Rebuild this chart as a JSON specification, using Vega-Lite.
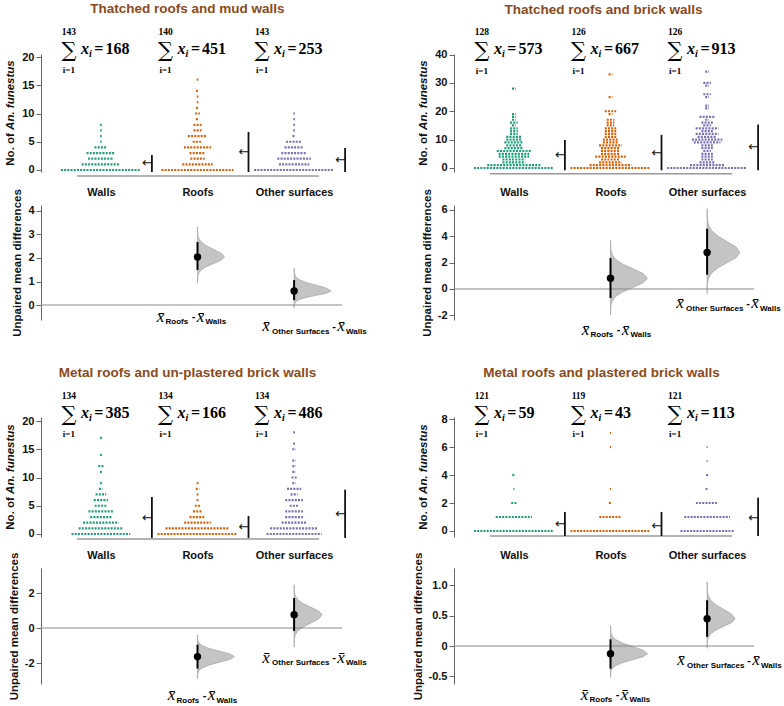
{
"$schema": "https://vega.github.io/schema/vega-lite/v6.json",
"background": "white",
"padding": {"left": 4, "top": 2, "right": 0, "bottom": 0},
"columns": 2,
"spacing": {"row": 27, "column": 100},
"bounds": "flush",
"align": "each",
"resolve": {"scale": {"size": "independent", "color": "independent"}},
"datasets": {
"swarm": [
{"p":"p1","g":"Walls","v":0,"n":73},{"p":"p1","g":"Walls","v":1,"n":24},{"p":"p1","g":"Walls","v":2,"n":16},{"p":"p1","g":"Walls","v":3,"n":18},{"p":"p1","g":"Walls","v":4,"n":8},{"p":"p1","g":"Walls","v":5,"n":1},{"p":"p1","g":"Walls","v":6,"n":1},{"p":"p1","g":"Walls","v":7,"n":1},{"p":"p1","g":"Walls","v":8,"n":1},
{"p":"p1","g":"Roofs","v":0,"n":45},{"p":"p1","g":"Roofs","v":1,"n":19},{"p":"p1","g":"Roofs","v":2,"n":9},{"p":"p1","g":"Roofs","v":3,"n":10},{"p":"p1","g":"Roofs","v":4,"n":17},{"p":"p1","g":"Roofs","v":5,"n":6},{"p":"p1","g":"Roofs","v":6,"n":12},{"p":"p1","g":"Roofs","v":7,"n":5},{"p":"p1","g":"Roofs","v":8,"n":5},{"p":"p1","g":"Roofs","v":9,"n":2},{"p":"p1","g":"Roofs","v":10,"n":3},{"p":"p1","g":"Roofs","v":11,"n":2},{"p":"p1","g":"Roofs","v":12,"n":1},{"p":"p1","g":"Roofs","v":13,"n":1},{"p":"p1","g":"Roofs","v":14,"n":2},{"p":"p1","g":"Roofs","v":16,"n":1},
{"p":"p1","g":"Other surfaces","v":0,"n":59},{"p":"p1","g":"Other surfaces","v":1,"n":19},{"p":"p1","g":"Other surfaces","v":2,"n":21},{"p":"p1","g":"Other surfaces","v":3,"n":16},{"p":"p1","g":"Other surfaces","v":4,"n":12},{"p":"p1","g":"Other surfaces","v":5,"n":10},{"p":"p1","g":"Other surfaces","v":6,"n":2},{"p":"p1","g":"Other surfaces","v":7,"n":1},{"p":"p1","g":"Other surfaces","v":8,"n":1},{"p":"p1","g":"Other surfaces","v":9,"n":1},{"p":"p1","g":"Other surfaces","v":10,"n":1},
{"p":"p2","g":"Walls","v":0,"n":42},{"p":"p2","g":"Walls","v":1,"n":14},{"p":"p2","g":"Walls","v":2,"n":6},{"p":"p2","g":"Walls","v":3,"n":6},{"p":"p2","g":"Walls","v":4,"n":8},{"p":"p2","g":"Walls","v":5,"n":8},{"p":"p2","g":"Walls","v":6,"n":9},{"p":"p2","g":"Walls","v":7,"n":5},{"p":"p2","g":"Walls","v":8,"n":4},{"p":"p2","g":"Walls","v":9,"n":5},{"p":"p2","g":"Walls","v":10,"n":4},{"p":"p2","g":"Walls","v":11,"n":4},{"p":"p2","g":"Walls","v":12,"n":2},{"p":"p2","g":"Walls","v":13,"n":2},{"p":"p2","g":"Walls","v":14,"n":2},{"p":"p2","g":"Walls","v":15,"n":1},{"p":"p2","g":"Walls","v":16,"n":2},{"p":"p2","g":"Walls","v":17,"n":1},{"p":"p2","g":"Walls","v":18,"n":1},{"p":"p2","g":"Walls","v":19,"n":1},{"p":"p2","g":"Walls","v":28,"n":1},
{"p":"p2","g":"Roofs","v":0,"n":43},{"p":"p2","g":"Roofs","v":1,"n":11},{"p":"p2","g":"Roofs","v":2,"n":6},{"p":"p2","g":"Roofs","v":3,"n":5},{"p":"p2","g":"Roofs","v":4,"n":8},{"p":"p2","g":"Roofs","v":5,"n":5},{"p":"p2","g":"Roofs","v":6,"n":5},{"p":"p2","g":"Roofs","v":7,"n":5},{"p":"p2","g":"Roofs","v":8,"n":6},{"p":"p2","g":"Roofs","v":9,"n":4},{"p":"p2","g":"Roofs","v":10,"n":4},{"p":"p2","g":"Roofs","v":11,"n":3},{"p":"p2","g":"Roofs","v":12,"n":3},{"p":"p2","g":"Roofs","v":13,"n":3},{"p":"p2","g":"Roofs","v":14,"n":3},{"p":"p2","g":"Roofs","v":15,"n":2},{"p":"p2","g":"Roofs","v":16,"n":2},{"p":"p2","g":"Roofs","v":17,"n":2},{"p":"p2","g":"Roofs","v":19,"n":1},{"p":"p2","g":"Roofs","v":20,"n":3},{"p":"p2","g":"Roofs","v":25,"n":1},{"p":"p2","g":"Roofs","v":33,"n":1},
{"p":"p2","g":"Other surfaces","v":0,"n":42},{"p":"p2","g":"Other surfaces","v":1,"n":9},{"p":"p2","g":"Other surfaces","v":2,"n":4},{"p":"p2","g":"Other surfaces","v":3,"n":3},{"p":"p2","g":"Other surfaces","v":4,"n":3},{"p":"p2","g":"Other surfaces","v":5,"n":3},{"p":"p2","g":"Other surfaces","v":6,"n":2},{"p":"p2","g":"Other surfaces","v":7,"n":3},{"p":"p2","g":"Other surfaces","v":8,"n":3},{"p":"p2","g":"Other surfaces","v":9,"n":7},{"p":"p2","g":"Other surfaces","v":10,"n":8},{"p":"p2","g":"Other surfaces","v":11,"n":5},{"p":"p2","g":"Other surfaces","v":12,"n":6},{"p":"p2","g":"Other surfaces","v":13,"n":3},{"p":"p2","g":"Other surfaces","v":14,"n":6},{"p":"p2","g":"Other surfaces","v":15,"n":2},{"p":"p2","g":"Other surfaces","v":16,"n":3},{"p":"p2","g":"Other surfaces","v":17,"n":1},{"p":"p2","g":"Other surfaces","v":18,"n":4},{"p":"p2","g":"Other surfaces","v":21,"n":1},{"p":"p2","g":"Other surfaces","v":22,"n":1},{"p":"p2","g":"Other surfaces","v":25,"n":1},{"p":"p2","g":"Other surfaces","v":26,"n":2},{"p":"p2","g":"Other surfaces","v":29,"n":1},{"p":"p2","g":"Other surfaces","v":30,"n":2},{"p":"p2","g":"Other surfaces","v":34,"n":1},
{"p":"p3","g":"Walls","v":0,"n":33},{"p":"p3","g":"Walls","v":1,"n":25},{"p":"p3","g":"Walls","v":2,"n":20},{"p":"p3","g":"Walls","v":3,"n":12},{"p":"p3","g":"Walls","v":4,"n":14},{"p":"p3","g":"Walls","v":5,"n":7},{"p":"p3","g":"Walls","v":6,"n":8},{"p":"p3","g":"Walls","v":7,"n":6},{"p":"p3","g":"Walls","v":8,"n":2},{"p":"p3","g":"Walls","v":9,"n":1},{"p":"p3","g":"Walls","v":11,"n":1},{"p":"p3","g":"Walls","v":12,"n":3},{"p":"p3","g":"Walls","v":14,"n":1},{"p":"p3","g":"Walls","v":17,"n":1},
{"p":"p3","g":"Roofs","v":0,"n":61},{"p":"p3","g":"Roofs","v":1,"n":36},{"p":"p3","g":"Roofs","v":2,"n":15},{"p":"p3","g":"Roofs","v":3,"n":9},{"p":"p3","g":"Roofs","v":4,"n":5},{"p":"p3","g":"Roofs","v":5,"n":3},{"p":"p3","g":"Roofs","v":6,"n":1},{"p":"p3","g":"Roofs","v":7,"n":1},{"p":"p3","g":"Roofs","v":8,"n":2},{"p":"p3","g":"Roofs","v":9,"n":1},
{"p":"p3","g":"Other surfaces","v":0,"n":31},{"p":"p3","g":"Other surfaces","v":1,"n":27},{"p":"p3","g":"Other surfaces","v":2,"n":14},{"p":"p3","g":"Other surfaces","v":3,"n":10},{"p":"p3","g":"Other surfaces","v":4,"n":10},{"p":"p3","g":"Other surfaces","v":5,"n":5},{"p":"p3","g":"Other surfaces","v":6,"n":10},{"p":"p3","g":"Other surfaces","v":7,"n":4},{"p":"p3","g":"Other surfaces","v":8,"n":8},{"p":"p3","g":"Other surfaces","v":9,"n":2},{"p":"p3","g":"Other surfaces","v":10,"n":3},{"p":"p3","g":"Other surfaces","v":11,"n":2},{"p":"p3","g":"Other surfaces","v":12,"n":2},{"p":"p3","g":"Other surfaces","v":13,"n":2},{"p":"p3","g":"Other surfaces","v":15,"n":2},{"p":"p3","g":"Other surfaces","v":16,"n":1},{"p":"p3","g":"Other surfaces","v":18,"n":1},
{"p":"p4","g":"Walls","v":0,"n":78},{"p":"p4","g":"Walls","v":1,"n":34},{"p":"p4","g":"Walls","v":2,"n":5},{"p":"p4","g":"Walls","v":3,"n":1},{"p":"p4","g":"Walls","v":4,"n":3},
{"p":"p4","g":"Roofs","v":0,"n":93},{"p":"p4","g":"Roofs","v":1,"n":21},{"p":"p4","g":"Roofs","v":2,"n":3},{"p":"p4","g":"Roofs","v":3,"n":1},{"p":"p4","g":"Roofs","v":6,"n":1},{"p":"p4","g":"Roofs","v":7,"n":1},
{"p":"p4","g":"Other surfaces","v":0,"n":50},{"p":"p4","g":"Other surfaces","v":1,"n":43},{"p":"p4","g":"Other surfaces","v":2,"n":21},{"p":"p4","g":"Other surfaces","v":3,"n":3},{"p":"p4","g":"Other surfaces","v":4,"n":2},{"p":"p4","g":"Other surfaces","v":5,"n":1},{"p":"p4","g":"Other surfaces","v":6,"n":1}
],
"stats": [
{"p":"p1","g":"Walls","N":143,"S":168,"mean":1.175,"lo":-0.35,"hi":2.65},
{"p":"p1","g":"Roofs","N":140,"S":451,"mean":3.221,"lo":-0.35,"hi":6.73},
{"p":"p1","g":"Other surfaces","N":143,"S":253,"mean":1.769,"lo":-0.35,"hi":3.89},
{"p":"p2","g":"Walls","N":128,"S":573,"mean":4.477,"lo":-0.8,"hi":9.87},
{"p":"p2","g":"Roofs","N":126,"S":667,"mean":5.294,"lo":-0.8,"hi":11.7},
{"p":"p2","g":"Other surfaces","N":126,"S":913,"mean":7.246,"lo":-0.8,"hi":15.3},
{"p":"p3","g":"Walls","N":134,"S":385,"mean":2.873,"lo":-0.7,"hi":6.55},
{"p":"p3","g":"Roofs","N":134,"S":166,"mean":1.239,"lo":-0.7,"hi":3.19},
{"p":"p3","g":"Other surfaces","N":134,"S":486,"mean":3.627,"lo":-0.7,"hi":7.85},
{"p":"p4","g":"Walls","N":121,"S":59,"mean":0.488,"lo":-0.36,"hi":1.36},
{"p":"p4","g":"Roofs","N":119,"S":43,"mean":0.361,"lo":-0.36,"hi":1.36},
{"p":"p4","g":"Other surfaces","N":121,"S":113,"mean":0.934,"lo":-0.36,"hi":2.38}
],
"diff": [
{"p":"p1","g":"Roofs","m":2.047,"lo":1.49,"hi":2.68},
{"p":"p1","g":"Other surfaces","m":0.594,"lo":0.21,"hi":1.06},
{"p":"p2","g":"Roofs","m":0.817,"lo":-0.68,"hi":2.35},
{"p":"p2","g":"Other surfaces","m":2.77,"lo":1.09,"hi":4.58},
{"p":"p3","g":"Roofs","m":-1.634,"lo":-2.32,"hi":-0.95},
{"p":"p3","g":"Other surfaces","m":0.754,"lo":-0.17,"hi":1.71},
{"p":"p4","g":"Roofs","m":-0.126,"lo":-0.37,"hi":0.11},
{"p":"p4","g":"Other surfaces","m":0.446,"lo":0.15,"hi":0.75}
],
"vio": [
{"p":"p1","g":"Roofs","v":0.939,"d":0},{"p":"p1","g":"Roofs","v":1.216,"d":0.015},{"p":"p1","g":"Roofs","v":1.355,"d":0.059},{"p":"p1","g":"Roofs","v":1.493,"d":0.183},{"p":"p1","g":"Roofs","v":1.632,"d":0.438},{"p":"p1","g":"Roofs","v":1.77,"d":0.819},{"p":"p1","g":"Roofs","v":1.909,"d":1.191},{"p":"p1","g":"Roofs","v":2.047,"d":1.35},{"p":"p1","g":"Roofs","v":2.206,"d":1.191},{"p":"p1","g":"Roofs","v":2.365,"d":0.819},{"p":"p1","g":"Roofs","v":2.524,"d":0.438},{"p":"p1","g":"Roofs","v":2.683,"d":0.183},{"p":"p1","g":"Roofs","v":2.842,"d":0.059},{"p":"p1","g":"Roofs","v":3.001,"d":0.015},{"p":"p1","g":"Roofs","v":3.319,"d":0},
{"p":"p1","g":"Other surfaces","v":-0.13,"d":0},{"p":"p1","g":"Other surfaces","v":0.051,"d":0.021},{"p":"p1","g":"Other surfaces","v":0.142,"d":0.081},{"p":"p1","g":"Other surfaces","v":0.232,"d":0.25},{"p":"p1","g":"Other surfaces","v":0.323,"d":0.601},{"p":"p1","g":"Other surfaces","v":0.413,"d":1.122},{"p":"p1","g":"Other surfaces","v":0.504,"d":1.633},{"p":"p1","g":"Other surfaces","v":0.594,"d":1.85},{"p":"p1","g":"Other surfaces","v":0.716,"d":1.633},{"p":"p1","g":"Other surfaces","v":0.838,"d":1.122},{"p":"p1","g":"Other surfaces","v":0.96,"d":0.601},{"p":"p1","g":"Other surfaces","v":1.082,"d":0.25},{"p":"p1","g":"Other surfaces","v":1.204,"d":0.081},{"p":"p1","g":"Other surfaces","v":1.326,"d":0.021},{"p":"p1","g":"Other surfaces","v":1.57,"d":0},
{"p":"p2","g":"Roofs","v":-1.971,"d":0},{"p":"p2","g":"Roofs","v":-1.274,"d":0.006},{"p":"p2","g":"Roofs","v":-0.926,"d":0.025},{"p":"p2","g":"Roofs","v":-0.577,"d":0.076},{"p":"p2","g":"Roofs","v":-0.229,"d":0.182},{"p":"p2","g":"Roofs","v":0.12,"d":0.34},{"p":"p2","g":"Roofs","v":0.469,"d":0.495},{"p":"p2","g":"Roofs","v":0.817,"d":0.561},{"p":"p2","g":"Roofs","v":1.178,"d":0.495},{"p":"p2","g":"Roofs","v":1.538,"d":0.34},{"p":"p2","g":"Roofs","v":1.899,"d":0.182},{"p":"p2","g":"Roofs","v":2.259,"d":0.076},{"p":"p2","g":"Roofs","v":2.62,"d":0.025},{"p":"p2","g":"Roofs","v":2.98,"d":0.006},{"p":"p2","g":"Roofs","v":3.701,"d":0},
{"p":"p2","g":"Other surfaces","v":-0.36,"d":0},{"p":"p2","g":"Other surfaces","v":0.423,"d":0.006},{"p":"p2","g":"Other surfaces","v":0.814,"d":0.022},{"p":"p2","g":"Other surfaces","v":1.205,"d":0.068},{"p":"p2","g":"Other surfaces","v":1.596,"d":0.162},{"p":"p2","g":"Other surfaces","v":1.988,"d":0.303},{"p":"p2","g":"Other surfaces","v":2.379,"d":0.441},{"p":"p2","g":"Other surfaces","v":2.77,"d":0.5},{"p":"p2","g":"Other surfaces","v":3.186,"d":0.441},{"p":"p2","g":"Other surfaces","v":3.603,"d":0.303},{"p":"p2","g":"Other surfaces","v":4.019,"d":0.162},{"p":"p2","g":"Other surfaces","v":4.435,"d":0.068},{"p":"p2","g":"Other surfaces","v":4.851,"d":0.022},{"p":"p2","g":"Other surfaces","v":5.268,"d":0.006},{"p":"p2","g":"Other surfaces","v":6.1,"d":0},
{"p":"p3","g":"Roofs","v":-2.9,"d":0},{"p":"p3","g":"Roofs","v":-2.584,"d":0.014},{"p":"p3","g":"Roofs","v":-2.425,"d":0.054},{"p":"p3","g":"Roofs","v":-2.267,"d":0.167},{"p":"p3","g":"Roofs","v":-2.109,"d":0.4},{"p":"p3","g":"Roofs","v":-1.951,"d":0.748},{"p":"p3","g":"Roofs","v":-1.792,"d":1.088},{"p":"p3","g":"Roofs","v":-1.634,"d":1.233},{"p":"p3","g":"Roofs","v":-1.48,"d":1.088},{"p":"p3","g":"Roofs","v":-1.326,"d":0.748},{"p":"p3","g":"Roofs","v":-1.171,"d":0.4},{"p":"p3","g":"Roofs","v":-1.017,"d":0.167},{"p":"p3","g":"Roofs","v":-0.863,"d":0.054},{"p":"p3","g":"Roofs","v":-0.709,"d":0.014},{"p":"p3","g":"Roofs","v":-0.4,"d":0},
{"p":"p3","g":"Other surfaces","v":-1.09,"d":0},{"p":"p3","g":"Other surfaces","v":-0.629,"d":0.01},{"p":"p3","g":"Other surfaces","v":-0.399,"d":0.041},{"p":"p3","g":"Other surfaces","v":-0.168,"d":0.126},{"p":"p3","g":"Other surfaces","v":0.063,"d":0.303},{"p":"p3","g":"Other surfaces","v":0.293,"d":0.566},{"p":"p3","g":"Other surfaces","v":0.524,"d":0.823},{"p":"p3","g":"Other surfaces","v":0.754,"d":0.933},{"p":"p3","g":"Other surfaces","v":0.969,"d":0.823},{"p":"p3","g":"Other surfaces","v":1.183,"d":0.566},{"p":"p3","g":"Other surfaces","v":1.398,"d":0.303},{"p":"p3","g":"Other surfaces","v":1.612,"d":0.126},{"p":"p3","g":"Other surfaces","v":1.827,"d":0.041},{"p":"p3","g":"Other surfaces","v":2.041,"d":0.01},{"p":"p3","g":"Other surfaces","v":2.47,"d":0},
{"p":"p4","g":"Roofs","v":-0.52,"d":0},{"p":"p4","g":"Roofs","v":-0.422,"d":0.042},{"p":"p4","g":"Roofs","v":-0.372,"d":0.166},{"p":"p4","g":"Roofs","v":-0.323,"d":0.511},{"p":"p4","g":"Roofs","v":-0.274,"d":1.226},{"p":"p4","g":"Roofs","v":-0.225,"d":2.29},{"p":"p4","g":"Roofs","v":-0.175,"d":3.332},{"p":"p4","g":"Roofs","v":-0.126,"d":3.776},{"p":"p4","g":"Roofs","v":-0.068,"d":3.332},{"p":"p4","g":"Roofs","v":-0.01,"d":2.29},{"p":"p4","g":"Roofs","v":0.049,"d":1.226},{"p":"p4","g":"Roofs","v":0.107,"d":0.511},{"p":"p4","g":"Roofs","v":0.165,"d":0.166},{"p":"p4","g":"Roofs","v":0.224,"d":0.042},{"p":"p4","g":"Roofs","v":0.34,"d":0},
{"p":"p4","g":"Other surfaces","v":-0.04,"d":0},{"p":"p4","g":"Other surfaces","v":0.082,"d":0.032},{"p":"p4","g":"Other surfaces","v":0.142,"d":0.125},{"p":"p4","g":"Other surfaces","v":0.203,"d":0.387},{"p":"p4","g":"Other surfaces","v":0.264,"d":0.928},{"p":"p4","g":"Other surfaces","v":0.325,"d":1.733},{"p":"p4","g":"Other surfaces","v":0.385,"d":2.521},{"p":"p4","g":"Other surfaces","v":0.446,"d":2.857},{"p":"p4","g":"Other surfaces","v":0.522,"d":2.521},{"p":"p4","g":"Other surfaces","v":0.597,"d":1.733},{"p":"p4","g":"Other surfaces","v":0.673,"d":0.928},{"p":"p4","g":"Other surfaces","v":0.748,"d":0.387},{"p":"p4","g":"Other surfaces","v":0.824,"d":0.125},{"p":"p4","g":"Other surfaces","v":0.899,"d":0.032},{"p":"p4","g":"Other surfaces","v":1.05,"d":0}
]
},
"concat": [
{
 "width": 313, "height": 126,
 "title": {"text": "Thatched roofs and mud walls", "dx": -10, "offset": 11, "frame": "group"},
 "layer": [
  {"data": {"values": [{}]}, "mark": {"type": "rule", "color": "#9a9a9a", "strokeWidth": 1.5, "xOffset": -24, "x2Offset": 25},
   "encoding": {
    "x": {"datum": "Walls", "type": "nominal", "scale": {"type": "point", "domain": ["Walls", "Roofs", "Other surfaces"], "padding": 0.62}, "axis": {"title": null, "domain": false, "ticks": false, "labelPadding": 8, "labelAngle": 0}},
    "x2": {"datum": "Other surfaces"},
    "y": {"datum": -1.062, "type": "quantitative", "scale": {"domain": [-0.354, 20.531], "range": [120, 2], "nice": false, "zero": false}, "axis": {"title": null, "values": [0, 5, 10, 15, 20], "tickCount": 5, "labelOverlap": false}}}},
  {"data": {"values": [{}]},
   "encoding": {"x": {"datum": "Walls", "type": "nominal"}, "y": {"datum": 10.088, "type": "quantitative"}},
   "layer": [
    {"mark": {"type": "text", "text": "No. of", "angle": 270, "align": "right", "baseline": "middle", "font": "Liberation Sans", "fontWeight": "bold", "fontSize": 11.5, "xOffset": -90, "dx": -20.1, "color": "#111"}},
    {"mark": {"type": "text", "text": "An. funestus", "angle": 270, "align": "left", "baseline": "middle", "font": "Liberation Sans", "fontWeight": "bold", "fontStyle": "italic", "fontSize": 11.5, "xOffset": -90, "dx": -16.9, "color": "#111"}}
   ]},
  {"data": {"name": "swarm"}, "transform": [{"filter": "datum.p == 'p1'"}],
   "mark": {"type": "point", "shape": "M-1,0L1,0", "filled": false, "strokeWidth": 2.2, "strokeDash": [2, 1.2], "opacity": 1},
   "encoding": {
    "x": {"field": "g", "type": "nominal"},
    "y": {"field": "v", "type": "quantitative"},
    "size": {"field": "n", "type": "quantitative", "scale": {"type": "pow", "exponent": 2, "domain": [0, 50], "range": [0, 6400], "clamp": true}, "legend": null},
    "color": {"field": "g", "type": "nominal", "scale": {"domain": ["Walls", "Roofs", "Other surfaces"], "range": ["#1b9e77", "#d95f02", "#7570b3"]}, "legend": null}}},
  {"data": {"name": "stats"}, "transform": [{"filter": "datum.p == 'p1'"}],
   "encoding": {"x": {"field": "g", "type": "nominal"}},
   "layer": [
    {"mark": {"type": "rule", "color": "#111", "strokeWidth": 1.8, "xOffset": 51}, "encoding": {"y": {"field": "lo", "type": "quantitative"}, "y2": {"field": "hi"}}},
    {"mark": {"type": "text", "text": "←", "font": "DejaVu Sans", "fontSize": 13, "align": "right", "baseline": "middle", "xOffset": 52, "color": "#111"}, "encoding": {"y": {"field": "mean", "type": "quantitative"}}}
   ]},
  {"data": {"name": "stats"}, "transform": [{"filter": "datum.p == 'p1'"}],
   "encoding": {"x": {"field": "g", "type": "nominal"}, "y": {"datum": 21.062, "type": "quantitative"}},
   "layer": [
    {"mark": {"type": "text", "text": "∑", "font": "DejaVu Serif", "fontSize": 21, "align": "center", "baseline": "middle", "xOffset": -32}},
    {"mark": {"type": "text", "font": "Liberation Serif", "fontWeight": "bold", "fontSize": 9.5, "align": "center", "baseline": "middle", "xOffset": -32, "dy": -19}, "encoding": {"text": {"field": "N", "type": "quantitative"}}},
    {"mark": {"type": "text", "text": "i=1", "font": "Liberation Serif", "fontWeight": "bold", "fontSize": 9, "align": "center", "baseline": "middle", "xOffset": -32, "dy": 19.5}},
    {"mark": {"type": "text", "text": "x", "font": "Liberation Serif", "fontWeight": "bold", "fontStyle": "italic", "fontSize": 16, "align": "left", "baseline": "alphabetic", "xOffset": -20, "dy": 3}},
    {"mark": {"type": "text", "text": "i", "font": "Liberation Serif", "fontWeight": "bold", "fontStyle": "italic", "fontSize": 10, "align": "left", "baseline": "alphabetic", "xOffset": -12, "dy": 6}},
    {"mark": {"type": "text", "text": "=", "font": "Liberation Serif", "fontWeight": "bold", "fontSize": 16, "align": "center", "baseline": "alphabetic", "xOffset": -2, "dy": 3}},
    {"mark": {"type": "text", "font": "Liberation Serif", "fontWeight": "bold", "fontSize": 16, "align": "left", "baseline": "alphabetic", "xOffset": 4.5, "dy": 3}, "encoding": {"text": {"field": "S", "type": "quantitative"}}}
   ]}
 ]
},
{
 "width": 313, "height": 126,
 "title": {"text": "Thatched roofs and brick walls", "dx": -7, "offset": 11, "frame": "group"},
 "layer": [
  {"data": {"values": [{}]}, "mark": {"type": "rule", "color": "#9a9a9a", "strokeWidth": 1.5, "xOffset": -24, "x2Offset": 25},
   "encoding": {
    "x": {"datum": "Walls", "type": "nominal", "scale": {"type": "point", "domain": ["Walls", "Roofs", "Other surfaces"], "padding": 0.62}, "axis": {"title": null, "domain": false, "ticks": false, "labelPadding": 8, "labelAngle": 0}},
    "x2": {"datum": "Other surfaces"},
    "y": {"datum": -2.01, "type": "quantitative", "scale": {"domain": [-1.41, 40.18], "range": [120, 2], "nice": false, "zero": false}, "axis": {"title": null, "values": [0, 10, 20, 30, 40], "tickCount": 5, "labelOverlap": false}}}},
  {"data": {"values": [{}]},
   "encoding": {"x": {"datum": "Walls", "type": "nominal"}, "y": {"datum": 19.383, "type": "quantitative"}},
   "layer": [
    {"mark": {"type": "text", "text": "No. of", "angle": 270, "align": "right", "baseline": "middle", "font": "Liberation Sans", "fontWeight": "bold", "fontSize": 11.5, "xOffset": -90, "dx": -20.1, "color": "#111"}},
    {"mark": {"type": "text", "text": "An. funestus", "angle": 270, "align": "left", "baseline": "middle", "font": "Liberation Sans", "fontWeight": "bold", "fontStyle": "italic", "fontSize": 11.5, "xOffset": -90, "dx": -16.9, "color": "#111"}}
   ]},
  {"data": {"name": "swarm"}, "transform": [{"filter": "datum.p == 'p2'"}],
   "mark": {"type": "point", "shape": "M-1,0L1,0", "filled": false, "strokeWidth": 2.2, "strokeDash": [2, 1.2], "opacity": 1},
   "encoding": {
    "x": {"field": "g", "type": "nominal"},
    "y": {"field": "v", "type": "quantitative"},
    "size": {"field": "n", "type": "quantitative", "scale": {"type": "pow", "exponent": 2, "domain": [0, 21], "range": [0, 6400], "clamp": true}, "legend": null},
    "color": {"field": "g", "type": "nominal", "scale": {"domain": ["Walls", "Roofs", "Other surfaces"], "range": ["#1b9e77", "#d95f02", "#7570b3"]}, "legend": null}}},
  {"data": {"name": "stats"}, "transform": [{"filter": "datum.p == 'p2'"}],
   "encoding": {"x": {"field": "g", "type": "nominal"}},
   "layer": [
    {"mark": {"type": "rule", "color": "#111", "strokeWidth": 1.8, "xOffset": 51}, "encoding": {"y": {"field": "lo", "type": "quantitative"}, "y2": {"field": "hi"}}},
    {"mark": {"type": "text", "text": "←", "font": "DejaVu Sans", "fontSize": 13, "align": "right", "baseline": "middle", "xOffset": 52, "color": "#111"}, "encoding": {"y": {"field": "mean", "type": "quantitative"}}}
   ]},
  {"data": {"name": "stats"}, "transform": [{"filter": "datum.p == 'p2'"}],
   "encoding": {"x": {"field": "g", "type": "nominal"}, "y": {"datum": 41.233, "type": "quantitative"}},
   "layer": [
    {"mark": {"type": "text", "text": "∑", "font": "DejaVu Serif", "fontSize": 21, "align": "center", "baseline": "middle", "xOffset": -32}},
    {"mark": {"type": "text", "font": "Liberation Serif", "fontWeight": "bold", "fontSize": 9.5, "align": "center", "baseline": "middle", "xOffset": -32, "dy": -19}, "encoding": {"text": {"field": "N", "type": "quantitative"}}},
    {"mark": {"type": "text", "text": "i=1", "font": "Liberation Serif", "fontWeight": "bold", "fontSize": 9, "align": "center", "baseline": "middle", "xOffset": -32, "dy": 19.5}},
    {"mark": {"type": "text", "text": "x", "font": "Liberation Serif", "fontWeight": "bold", "fontStyle": "italic", "fontSize": 16, "align": "left", "baseline": "alphabetic", "xOffset": -20, "dy": 3}},
    {"mark": {"type": "text", "text": "i", "font": "Liberation Serif", "fontWeight": "bold", "fontStyle": "italic", "fontSize": 10, "align": "left", "baseline": "alphabetic", "xOffset": -12, "dy": 6}},
    {"mark": {"type": "text", "text": "=", "font": "Liberation Serif", "fontWeight": "bold", "fontSize": 16, "align": "center", "baseline": "alphabetic", "xOffset": -2, "dy": 3}},
    {"mark": {"type": "text", "font": "Liberation Serif", "fontWeight": "bold", "fontSize": 16, "align": "left", "baseline": "alphabetic", "xOffset": 4.5, "dy": 3}, "encoding": {"text": {"field": "S", "type": "quantitative"}}}
   ]}
 ]
},
{
 "width": 313, "height": 181,
 "resolve": {"scale": {"x": "independent"}},
 "layer": [
  {"data": {"name": "vio"}, "transform": [{"filter": "datum.p == 'p1' && datum.g == 'Roofs'"}],
   "mark": {"type": "area", "orient": "horizontal", "fill": "#c4c4c4", "stroke": "#9a9a9a", "strokeWidth": 0.6, "opacity": 1},
   "encoding": {
    "x": {"field": "d", "type": "quantitative", "stack": null, "scale": {"domain": [-7.825, 7.825], "nice": false, "zero": false}, "axis": null},
    "x2": {"datum": 0},
    "y": {"field": "v", "type": "quantitative", "scale": {"domain": [-0.638, 4.255], "range": [115, 0], "nice": false, "zero": false}, "axis": {"title": "Unpaired mean differences", "values": [0, 1, 2, 3, 4], "tickCount": 5, "labelOverlap": false}}}},
  {"data": {"name": "vio"}, "transform": [{"filter": "datum.p == 'p1' && datum.g == 'Other surfaces'"}],
   "mark": {"type": "area", "orient": "horizontal", "fill": "#c4c4c4", "stroke": "#9a9a9a", "strokeWidth": 0.6, "opacity": 1},
   "encoding": {
    "x": {"field": "d", "type": "quantitative", "stack": null, "scale": {"domain": [-12.655, 2.995], "nice": false, "zero": false}, "axis": null},
    "x2": {"datum": 0},
    "y": {"field": "v", "type": "quantitative"}}},
  {"layer": [
    {"data": {"values": [{}]}, "mark": {"type": "rule", "color": "#8a8a8a", "strokeWidth": 1, "xOffset": -60, "x2Offset": 48},
     "encoding": {"x": {"datum": "Walls", "type": "nominal", "scale": {"type": "point", "domain": ["Walls", "Roofs", "Other surfaces"], "padding": 0.62}, "axis": null}, "x2": {"datum": "Other surfaces"}, "y": {"datum": 0, "type": "quantitative"}}},
    {"data": {"name": "diff"}, "transform": [{"filter": "datum.p == 'p1'"}],
     "encoding": {"x": {"field": "g", "type": "nominal", "axis": null}},
     "layer": [
      {"mark": {"type": "rule", "color": "#000", "strokeWidth": 2}, "encoding": {"y": {"field": "lo", "type": "quantitative"}, "y2": {"field": "hi"}}},
      {"mark": {"type": "circle", "size": 55, "color": "#000", "opacity": 1}, "encoding": {"y": {"field": "m", "type": "quantitative"}}}
     ]},
    {"data": {"values": [{}]},
     "encoding": {"x": {"datum": "Roofs", "type": "nominal", "axis": null}, "y": {"datum": -0.723, "type": "quantitative"}},
     "layer": [
      {"mark": {"type": "text", "text": "x\u0304", "font": "Liberation Serif", "fontStyle": "italic", "fontSize": 17, "align": "center", "baseline": "alphabetic", "xOffset": -37}},
      {"mark": {"type": "text", "text": "Roofs", "font": "Liberation Sans", "fontWeight": "bold", "fontSize": 8, "align": "left", "baseline": "alphabetic", "xOffset": -32, "dy": 2.5}},
      {"mark": {"type": "text", "text": "-", "font": "Liberation Sans", "fontWeight": "bold", "fontSize": 11, "align": "center", "baseline": "alphabetic", "xOffset": -4, "dy": -1.5}},
      {"mark": {"type": "text", "text": "x\u0304", "font": "Liberation Serif", "fontStyle": "italic", "fontSize": 17, "align": "center", "baseline": "alphabetic", "xOffset": 3}},
      {"mark": {"type": "text", "text": "Walls", "font": "Liberation Sans", "fontWeight": "bold", "fontSize": 8, "align": "left", "baseline": "alphabetic", "xOffset": 8, "dy": 2.5}}
     ]},
    {"data": {"values": [{}]},
     "encoding": {"x": {"datum": "Other surfaces", "type": "nominal", "axis": null}, "y": {"datum": -1.12, "type": "quantitative"}},
     "layer": [
      {"mark": {"type": "text", "text": "x\u0304", "font": "Liberation Serif", "fontStyle": "italic", "fontSize": 17, "align": "center", "baseline": "alphabetic", "xOffset": -28}},
      {"mark": {"type": "text", "text": "Other Surfaces", "font": "Liberation Sans", "fontWeight": "bold", "fontSize": 8, "align": "left", "baseline": "alphabetic", "xOffset": -22, "dy": 2.5}},
      {"mark": {"type": "text", "text": "-", "font": "Liberation Sans", "fontWeight": "bold", "fontSize": 11, "align": "center", "baseline": "alphabetic", "xOffset": 40, "dy": -1.5}},
      {"mark": {"type": "text", "text": "x\u0304", "font": "Liberation Serif", "fontStyle": "italic", "fontSize": 17, "align": "center", "baseline": "alphabetic", "xOffset": 47}},
      {"mark": {"type": "text", "text": "Walls", "font": "Liberation Sans", "fontWeight": "bold", "fontSize": 8, "align": "left", "baseline": "alphabetic", "xOffset": 52, "dy": 2.5}}
     ]}
  ]}
 ]
},
{
 "width": 313, "height": 181,
 "resolve": {"scale": {"x": "independent"}},
 "layer": [
  {"data": {"name": "vio"}, "transform": [{"filter": "datum.p == 'p2' && datum.g == 'Roofs'"}],
   "mark": {"type": "area", "orient": "horizontal", "fill": "#c4c4c4", "stroke": "#9a9a9a", "strokeWidth": 0.6, "opacity": 1},
   "encoding": {
    "x": {"field": "d", "type": "quantitative", "stack": null, "scale": {"domain": [-2.371, 2.371], "nice": false, "zero": false}, "axis": null},
    "x2": {"datum": 0},
    "y": {"field": "v", "type": "quantitative", "scale": {"domain": [-2.354, 6.378], "range": [115, 0], "nice": false, "zero": false}, "axis": {"title": "Unpaired mean differences", "values": [-2, 0, 2, 4, 6], "tickCount": 5, "labelOverlap": false, "labelExpr": "replace(datum.label, '\u2212', '-')"}}}},
  {"data": {"name": "vio"}, "transform": [{"filter": "datum.p == 'p2' && datum.g == 'Other surfaces'"}],
   "mark": {"type": "area", "orient": "horizontal", "fill": "#c4c4c4", "stroke": "#9a9a9a", "strokeWidth": 0.6, "opacity": 1},
   "encoding": {
    "x": {"field": "d", "type": "quantitative", "stack": null, "scale": {"domain": [-3.835, 0.908], "nice": false, "zero": false}, "axis": null},
    "x2": {"datum": 0},
    "y": {"field": "v", "type": "quantitative"}}},
  {"layer": [
    {"data": {"values": [{}]}, "mark": {"type": "rule", "color": "#8a8a8a", "strokeWidth": 1, "xOffset": -60, "x2Offset": 47},
     "encoding": {"x": {"datum": "Walls", "type": "nominal", "scale": {"type": "point", "domain": ["Walls", "Roofs", "Other surfaces"], "padding": 0.62}, "axis": null}, "x2": {"datum": "Other surfaces"}, "y": {"datum": 0, "type": "quantitative"}}},
    {"data": {"name": "diff"}, "transform": [{"filter": "datum.p == 'p2'"}],
     "encoding": {"x": {"field": "g", "type": "nominal", "axis": null}},
     "layer": [
      {"mark": {"type": "rule", "color": "#000", "strokeWidth": 2}, "encoding": {"y": {"field": "lo", "type": "quantitative"}, "y2": {"field": "hi"}}},
      {"mark": {"type": "circle", "size": 55, "color": "#000", "opacity": 1}, "encoding": {"y": {"field": "m", "type": "quantitative"}}}
     ]},
    {"data": {"values": [{}]},
     "encoding": {"x": {"datum": "Roofs", "type": "nominal", "axis": null}, "y": {"datum": -3.47, "type": "quantitative"}},
     "layer": [
      {"mark": {"type": "text", "text": "x\u0304", "font": "Liberation Serif", "fontStyle": "italic", "fontSize": 17, "align": "center", "baseline": "alphabetic", "xOffset": -25}},
      {"mark": {"type": "text", "text": "Roofs", "font": "Liberation Sans", "fontWeight": "bold", "fontSize": 8, "align": "left", "baseline": "alphabetic", "xOffset": -20, "dy": 2.5}},
      {"mark": {"type": "text", "text": "-", "font": "Liberation Sans", "fontWeight": "bold", "fontSize": 11, "align": "center", "baseline": "alphabetic", "xOffset": 8, "dy": -1.5}},
      {"mark": {"type": "text", "text": "x\u0304", "font": "Liberation Serif", "fontStyle": "italic", "fontSize": 17, "align": "center", "baseline": "alphabetic", "xOffset": 15}},
      {"mark": {"type": "text", "text": "Walls", "font": "Liberation Sans", "fontWeight": "bold", "fontSize": 8, "align": "left", "baseline": "alphabetic", "xOffset": 20, "dy": 2.5}}
     ]},
    {"data": {"values": [{}]},
     "encoding": {"x": {"datum": "Other surfaces", "type": "nominal", "axis": null}, "y": {"datum": -1.443, "type": "quantitative"}},
     "layer": [
      {"mark": {"type": "text", "text": "x\u0304", "font": "Liberation Serif", "fontStyle": "italic", "fontSize": 17, "align": "center", "baseline": "alphabetic", "xOffset": -27}},
      {"mark": {"type": "text", "text": "Other Surfaces", "font": "Liberation Sans", "fontWeight": "bold", "fontSize": 8, "align": "left", "baseline": "alphabetic", "xOffset": -21, "dy": 2.5}},
      {"mark": {"type": "text", "text": "-", "font": "Liberation Sans", "fontWeight": "bold", "fontSize": 11, "align": "center", "baseline": "alphabetic", "xOffset": 41, "dy": -1.5}},
      {"mark": {"type": "text", "text": "x\u0304", "font": "Liberation Serif", "fontStyle": "italic", "fontSize": 17, "align": "center", "baseline": "alphabetic", "xOffset": 48}},
      {"mark": {"type": "text", "text": "Walls", "font": "Liberation Sans", "fontWeight": "bold", "fontSize": 8, "align": "left", "baseline": "alphabetic", "xOffset": 53, "dy": 2.5}}
     ]}
  ]}
 ]
},
{
 "width": 313, "height": 128,
 "title": {"text": "Metal roofs and un-plastered brick walls", "dx": -10, "offset": 11, "frame": "group"},
 "layer": [
  {"data": {"values": [{}]}, "mark": {"type": "rule", "color": "#9a9a9a", "strokeWidth": 1.5, "xOffset": -24, "x2Offset": 25},
   "encoding": {
    "x": {"datum": "Walls", "type": "nominal", "scale": {"type": "point", "domain": ["Walls", "Roofs", "Other surfaces"], "padding": 0.62}, "axis": {"title": null, "domain": false, "ticks": false, "labelPadding": 8, "labelAngle": 0}},
    "x2": {"datum": "Other surfaces"},
    "y": {"datum": -0.885, "type": "quantitative", "scale": {"domain": [-0.531, 20.708], "range": [124, 4], "nice": false, "zero": false}, "axis": {"title": null, "values": [0, 5, 10, 15, 20], "tickCount": 5, "labelOverlap": false}}}},
  {"data": {"values": [{}]},
   "encoding": {"x": {"datum": "Walls", "type": "nominal"}, "y": {"datum": 10.088, "type": "quantitative"}},
   "layer": [
    {"mark": {"type": "text", "text": "No. of", "angle": 270, "align": "right", "baseline": "middle", "font": "Liberation Sans", "fontWeight": "bold", "fontSize": 11.5, "xOffset": -90, "dx": -20.1, "color": "#111"}},
    {"mark": {"type": "text", "text": "An. funestus", "angle": 270, "align": "left", "baseline": "middle", "font": "Liberation Sans", "fontWeight": "bold", "fontStyle": "italic", "fontSize": 11.5, "xOffset": -90, "dx": -16.9, "color": "#111"}}
   ]},
  {"data": {"name": "swarm"}, "transform": [{"filter": "datum.p == 'p3'"}],
   "mark": {"type": "point", "shape": "M-1,0L1,0", "filled": false, "strokeWidth": 2.2, "strokeDash": [2, 1.2], "opacity": 1},
   "encoding": {
    "x": {"field": "g", "type": "nominal"},
    "y": {"field": "v", "type": "quantitative"},
    "size": {"field": "n", "type": "quantitative", "scale": {"type": "pow", "exponent": 2, "domain": [0, 45], "range": [0, 6400], "clamp": true}, "legend": null},
    "color": {"field": "g", "type": "nominal", "scale": {"domain": ["Walls", "Roofs", "Other surfaces"], "range": ["#1b9e77", "#d95f02", "#7570b3"]}, "legend": null}}},
  {"data": {"name": "stats"}, "transform": [{"filter": "datum.p == 'p3'"}],
   "encoding": {"x": {"field": "g", "type": "nominal"}},
   "layer": [
    {"mark": {"type": "rule", "color": "#111", "strokeWidth": 1.8, "xOffset": 51}, "encoding": {"y": {"field": "lo", "type": "quantitative"}, "y2": {"field": "hi"}}},
    {"mark": {"type": "text", "text": "←", "font": "DejaVu Sans", "fontSize": 13, "align": "right", "baseline": "middle", "xOffset": 52, "color": "#111"}, "encoding": {"y": {"field": "mean", "type": "quantitative"}}}
   ]},
  {"data": {"name": "stats"}, "transform": [{"filter": "datum.p == 'p3'"}],
   "encoding": {"x": {"field": "g", "type": "nominal"}, "y": {"datum": 21.062, "type": "quantitative"}},
   "layer": [
    {"mark": {"type": "text", "text": "∑", "font": "DejaVu Serif", "fontSize": 21, "align": "center", "baseline": "middle", "xOffset": -32}},
    {"mark": {"type": "text", "font": "Liberation Serif", "fontWeight": "bold", "fontSize": 9.5, "align": "center", "baseline": "middle", "xOffset": -32, "dy": -19}, "encoding": {"text": {"field": "N", "type": "quantitative"}}},
    {"mark": {"type": "text", "text": "i=1", "font": "Liberation Serif", "fontWeight": "bold", "fontSize": 9, "align": "center", "baseline": "middle", "xOffset": -32, "dy": 19.5}},
    {"mark": {"type": "text", "text": "x", "font": "Liberation Serif", "fontWeight": "bold", "fontStyle": "italic", "fontSize": 16, "align": "left", "baseline": "alphabetic", "xOffset": -20, "dy": 3}},
    {"mark": {"type": "text", "text": "i", "font": "Liberation Serif", "fontWeight": "bold", "fontStyle": "italic", "fontSize": 10, "align": "left", "baseline": "alphabetic", "xOffset": -12, "dy": 6}},
    {"mark": {"type": "text", "text": "=", "font": "Liberation Serif", "fontWeight": "bold", "fontSize": 16, "align": "center", "baseline": "alphabetic", "xOffset": -2, "dy": 3}},
    {"mark": {"type": "text", "font": "Liberation Serif", "fontWeight": "bold", "fontSize": 16, "align": "left", "baseline": "alphabetic", "xOffset": 4.5, "dy": 3}, "encoding": {"text": {"field": "S", "type": "quantitative"}}}
   ]}
 ]
},
{
 "width": 313, "height": 128,
 "title": {"text": "Metal roofs and plastered brick walls", "dx": -9, "offset": 11, "frame": "group"},
 "layer": [
  {"data": {"values": [{}]}, "mark": {"type": "rule", "color": "#9a9a9a", "strokeWidth": 1.5, "xOffset": -24, "x2Offset": 25},
   "encoding": {
    "x": {"datum": "Walls", "type": "nominal", "scale": {"type": "point", "domain": ["Walls", "Roofs", "Other surfaces"], "padding": 0.62}, "axis": {"title": null, "domain": false, "ticks": false, "labelPadding": 8, "labelAngle": 0}},
    "x2": {"datum": "Other surfaces"},
    "y": {"datum": -0.357, "type": "quantitative", "scale": {"domain": [-0.4286, 8.143], "range": [124, 4], "nice": false, "zero": false}, "axis": {"title": null, "values": [0, 2, 4, 6, 8], "tickCount": 5, "labelOverlap": false}}}},
  {"data": {"values": [{}]},
   "encoding": {"x": {"datum": "Walls", "type": "nominal"}, "y": {"datum": 3.857, "type": "quantitative"}},
   "layer": [
    {"mark": {"type": "text", "text": "No. of", "angle": 270, "align": "right", "baseline": "middle", "font": "Liberation Sans", "fontWeight": "bold", "fontSize": 11.5, "xOffset": -90, "dx": -20.1, "color": "#111"}},
    {"mark": {"type": "text", "text": "An. funestus", "angle": 270, "align": "left", "baseline": "middle", "font": "Liberation Sans", "fontWeight": "bold", "fontStyle": "italic", "fontSize": 11.5, "xOffset": -90, "dx": -16.9, "color": "#111"}}
   ]},
  {"data": {"name": "swarm"}, "transform": [{"filter": "datum.p == 'p4'"}],
   "mark": {"type": "point", "shape": "M-1,0L1,0", "filled": false, "strokeWidth": 2.2, "strokeDash": [2, 1.2], "opacity": 1},
   "encoding": {
    "x": {"field": "g", "type": "nominal"},
    "y": {"field": "v", "type": "quantitative"},
    "size": {"field": "n", "type": "quantitative", "scale": {"type": "pow", "exponent": 2, "domain": [0, 75], "range": [0, 6400], "clamp": true}, "legend": null},
    "color": {"field": "g", "type": "nominal", "scale": {"domain": ["Walls", "Roofs", "Other surfaces"], "range": ["#1b9e77", "#d95f02", "#7570b3"]}, "legend": null}}},
  {"data": {"name": "stats"}, "transform": [{"filter": "datum.p == 'p4'"}],
   "encoding": {"x": {"field": "g", "type": "nominal"}},
   "layer": [
    {"mark": {"type": "rule", "color": "#111", "strokeWidth": 1.8, "xOffset": 51}, "encoding": {"y": {"field": "lo", "type": "quantitative"}, "y2": {"field": "hi"}}},
    {"mark": {"type": "text", "text": "←", "font": "DejaVu Sans", "fontSize": 13, "align": "right", "baseline": "middle", "xOffset": 52, "color": "#111"}, "encoding": {"y": {"field": "mean", "type": "quantitative"}}}
   ]},
  {"data": {"name": "stats"}, "transform": [{"filter": "datum.p == 'p4'"}],
   "encoding": {"x": {"field": "g", "type": "nominal"}, "y": {"datum": 8.286, "type": "quantitative"}},
   "layer": [
    {"mark": {"type": "text", "text": "∑", "font": "DejaVu Serif", "fontSize": 21, "align": "center", "baseline": "middle", "xOffset": -32}},
    {"mark": {"type": "text", "font": "Liberation Serif", "fontWeight": "bold", "fontSize": 9.5, "align": "center", "baseline": "middle", "xOffset": -32, "dy": -19}, "encoding": {"text": {"field": "N", "type": "quantitative"}}},
    {"mark": {"type": "text", "text": "i=1", "font": "Liberation Serif", "fontWeight": "bold", "fontSize": 9, "align": "center", "baseline": "middle", "xOffset": -32, "dy": 19.5}},
    {"mark": {"type": "text", "text": "x", "font": "Liberation Serif", "fontWeight": "bold", "fontStyle": "italic", "fontSize": 16, "align": "left", "baseline": "alphabetic", "xOffset": -20, "dy": 3}},
    {"mark": {"type": "text", "text": "i", "font": "Liberation Serif", "fontWeight": "bold", "fontStyle": "italic", "fontSize": 10, "align": "left", "baseline": "alphabetic", "xOffset": -12, "dy": 6}},
    {"mark": {"type": "text", "text": "=", "font": "Liberation Serif", "fontWeight": "bold", "fontSize": 16, "align": "center", "baseline": "alphabetic", "xOffset": -2, "dy": 3}},
    {"mark": {"type": "text", "font": "Liberation Serif", "fontWeight": "bold", "fontSize": 16, "align": "left", "baseline": "alphabetic", "xOffset": 4.5, "dy": 3}, "encoding": {"text": {"field": "S", "type": "quantitative"}}}
   ]}
 ]
},
{
 "width": 313, "height": 140,
 "resolve": {"scale": {"x": "independent"}},
 "layer": [
  {"data": {"name": "vio"}, "transform": [{"filter": "datum.p == 'p3' && datum.g == 'Roofs'"}],
   "mark": {"type": "area", "orient": "horizontal", "fill": "#c4c4c4", "stroke": "#9a9a9a", "strokeWidth": 0.6, "opacity": 1},
   "encoding": {
    "x": {"field": "d", "type": "quantitative", "stack": null, "scale": {"domain": [-5.217, 5.217], "nice": false, "zero": false}, "axis": null},
    "x2": {"datum": 0},
    "y": {"field": "v", "type": "quantitative", "scale": {"domain": [-3.2, 3.429], "range": [116, 0], "nice": false, "zero": false}, "axis": {"title": "Unpaired mean differences", "values": [-2, 0, 2], "tickCount": 3, "labelOverlap": false, "labelExpr": "replace(datum.label, '\u2212', '-')"}}}},
  {"data": {"name": "vio"}, "transform": [{"filter": "datum.p == 'p3' && datum.g == 'Other surfaces'"}],
   "mark": {"type": "area", "orient": "horizontal", "fill": "#c4c4c4", "stroke": "#9a9a9a", "strokeWidth": 0.6, "opacity": 1},
   "encoding": {
    "x": {"field": "d", "type": "quantitative", "stack": null, "scale": {"domain": [-8.437, 1.997], "nice": false, "zero": false}, "axis": null},
    "x2": {"datum": 0},
    "y": {"field": "v", "type": "quantitative"}}},
  {"layer": [
    {"data": {"values": [{}]}, "mark": {"type": "rule", "color": "#8a8a8a", "strokeWidth": 1, "xOffset": -60, "x2Offset": 48},
     "encoding": {"x": {"datum": "Walls", "type": "nominal", "scale": {"type": "point", "domain": ["Walls", "Roofs", "Other surfaces"], "padding": 0.62}, "axis": null}, "x2": {"datum": "Other surfaces"}, "y": {"datum": 0, "type": "quantitative"}}},
    {"data": {"name": "diff"}, "transform": [{"filter": "datum.p == 'p3'"}],
     "encoding": {"x": {"field": "g", "type": "nominal", "axis": null}},
     "layer": [
      {"mark": {"type": "rule", "color": "#000", "strokeWidth": 2}, "encoding": {"y": {"field": "lo", "type": "quantitative"}, "y2": {"field": "hi"}}},
      {"mark": {"type": "circle", "size": 55, "color": "#000", "opacity": 1}, "encoding": {"y": {"field": "m", "type": "quantitative"}}}
     ]},
    {"data": {"values": [{}]},
     "encoding": {"x": {"datum": "Roofs", "type": "nominal", "axis": null}, "y": {"datum": -4.13, "type": "quantitative"}},
     "layer": [
      {"mark": {"type": "text", "text": "x\u0304", "font": "Liberation Serif", "fontStyle": "italic", "fontSize": 17, "align": "center", "baseline": "alphabetic", "xOffset": -26}},
      {"mark": {"type": "text", "text": "Roofs", "font": "Liberation Sans", "fontWeight": "bold", "fontSize": 8, "align": "left", "baseline": "alphabetic", "xOffset": -21, "dy": 2.5}},
      {"mark": {"type": "text", "text": "-", "font": "Liberation Sans", "fontWeight": "bold", "fontSize": 11, "align": "center", "baseline": "alphabetic", "xOffset": 7, "dy": -1.5}},
      {"mark": {"type": "text", "text": "x\u0304", "font": "Liberation Serif", "fontStyle": "italic", "fontSize": 17, "align": "center", "baseline": "alphabetic", "xOffset": 14}},
      {"mark": {"type": "text", "text": "Walls", "font": "Liberation Sans", "fontWeight": "bold", "fontSize": 8, "align": "left", "baseline": "alphabetic", "xOffset": 19, "dy": 2.5}}
     ]},
    {"data": {"values": [{}]},
     "encoding": {"x": {"datum": "Other surfaces", "type": "nominal", "axis": null}, "y": {"datum": -1.98, "type": "quantitative"}},
     "layer": [
      {"mark": {"type": "text", "text": "x\u0304", "font": "Liberation Serif", "fontStyle": "italic", "fontSize": 17, "align": "center", "baseline": "alphabetic", "xOffset": -28}},
      {"mark": {"type": "text", "text": "Other Surfaces", "font": "Liberation Sans", "fontWeight": "bold", "fontSize": 8, "align": "left", "baseline": "alphabetic", "xOffset": -22, "dy": 2.5}},
      {"mark": {"type": "text", "text": "-", "font": "Liberation Sans", "fontWeight": "bold", "fontSize": 11, "align": "center", "baseline": "alphabetic", "xOffset": 40, "dy": -1.5}},
      {"mark": {"type": "text", "text": "x\u0304", "font": "Liberation Serif", "fontStyle": "italic", "fontSize": 17, "align": "center", "baseline": "alphabetic", "xOffset": 47}},
      {"mark": {"type": "text", "text": "Walls", "font": "Liberation Sans", "fontWeight": "bold", "fontSize": 8, "align": "left", "baseline": "alphabetic", "xOffset": 52, "dy": 2.5}}
     ]}
  ]}
 ]
},
{
 "width": 313, "height": 140,
 "resolve": {"scale": {"x": "independent"}},
 "layer": [
  {"data": {"name": "vio"}, "transform": [{"filter": "datum.p == 'p4' && datum.g == 'Roofs'"}],
   "mark": {"type": "area", "orient": "horizontal", "fill": "#c4c4c4", "stroke": "#9a9a9a", "strokeWidth": 0.6, "opacity": 1},
   "encoding": {
    "x": {"field": "d", "type": "quantitative", "stack": null, "scale": {"domain": [-15.969, 15.969], "nice": false, "zero": false}, "axis": null},
    "x2": {"datum": 0},
    "y": {"field": "v", "type": "quantitative", "scale": {"domain": [-0.623, 1.279], "range": [116, 0], "nice": false, "zero": false}, "axis": {"title": "Unpaired mean differences", "values": [-0.5, 0, 0.5, 1], "tickCount": 4, "labelOverlap": false, "labelExpr": "datum.value == 0 ? '0' : replace(format(datum.value, '.1f'), '\u2212', '-')"}}}},
  {"data": {"name": "vio"}, "transform": [{"filter": "datum.p == 'p4' && datum.g == 'Other surfaces'"}],
   "mark": {"type": "area", "orient": "horizontal", "fill": "#c4c4c4", "stroke": "#9a9a9a", "strokeWidth": 0.6, "opacity": 1},
   "encoding": {
    "x": {"field": "d", "type": "quantitative", "stack": null, "scale": {"domain": [-25.827, 6.112], "nice": false, "zero": false}, "axis": null},
    "x2": {"datum": 0},
    "y": {"field": "v", "type": "quantitative"}}},
  {"layer": [
    {"data": {"values": [{}]}, "mark": {"type": "rule", "color": "#8a8a8a", "strokeWidth": 1, "xOffset": -60, "x2Offset": 47},
     "encoding": {"x": {"datum": "Walls", "type": "nominal", "scale": {"type": "point", "domain": ["Walls", "Roofs", "Other surfaces"], "padding": 0.62}, "axis": null}, "x2": {"datum": "Other surfaces"}, "y": {"datum": 0, "type": "quantitative"}}},
    {"data": {"name": "diff"}, "transform": [{"filter": "datum.p == 'p4'"}],
     "encoding": {"x": {"field": "g", "type": "nominal", "axis": null}},
     "layer": [
      {"mark": {"type": "rule", "color": "#000", "strokeWidth": 2}, "encoding": {"y": {"field": "lo", "type": "quantitative"}, "y2": {"field": "hi"}}},
      {"mark": {"type": "circle", "size": 55, "color": "#000", "opacity": 1}, "encoding": {"y": {"field": "m", "type": "quantitative"}}}
     ]},
    {"data": {"values": [{}]},
     "encoding": {"x": {"datum": "Roofs", "type": "nominal", "axis": null}, "y": {"datum": -0.88, "type": "quantitative"}},
     "layer": [
      {"mark": {"type": "text", "text": "x\u0304", "font": "Liberation Serif", "fontStyle": "italic", "fontSize": 17, "align": "center", "baseline": "alphabetic", "xOffset": -26}},
      {"mark": {"type": "text", "text": "Roofs", "font": "Liberation Sans", "fontWeight": "bold", "fontSize": 8, "align": "left", "baseline": "alphabetic", "xOffset": -21, "dy": 2.5}},
      {"mark": {"type": "text", "text": "-", "font": "Liberation Sans", "fontWeight": "bold", "fontSize": 11, "align": "center", "baseline": "alphabetic", "xOffset": 7, "dy": -1.5}},
      {"mark": {"type": "text", "text": "x\u0304", "font": "Liberation Serif", "fontStyle": "italic", "fontSize": 17, "align": "center", "baseline": "alphabetic", "xOffset": 14}},
      {"mark": {"type": "text", "text": "Walls", "font": "Liberation Sans", "fontWeight": "bold", "fontSize": 8, "align": "left", "baseline": "alphabetic", "xOffset": 19, "dy": 2.5}}
     ]},
    {"data": {"values": [{}]},
     "encoding": {"x": {"datum": "Other surfaces", "type": "nominal", "axis": null}, "y": {"datum": -0.316, "type": "quantitative"}},
     "layer": [
      {"mark": {"type": "text", "text": "x\u0304", "font": "Liberation Serif", "fontStyle": "italic", "fontSize": 17, "align": "center", "baseline": "alphabetic", "xOffset": -26}},
      {"mark": {"type": "text", "text": "Other Surfaces", "font": "Liberation Sans", "fontWeight": "bold", "fontSize": 8, "align": "left", "baseline": "alphabetic", "xOffset": -20, "dy": 2.5}},
      {"mark": {"type": "text", "text": "-", "font": "Liberation Sans", "fontWeight": "bold", "fontSize": 11, "align": "center", "baseline": "alphabetic", "xOffset": 42, "dy": -1.5}},
      {"mark": {"type": "text", "text": "x\u0304", "font": "Liberation Serif", "fontStyle": "italic", "fontSize": 17, "align": "center", "baseline": "alphabetic", "xOffset": 49}},
      {"mark": {"type": "text", "text": "Walls", "font": "Liberation Sans", "fontWeight": "bold", "fontSize": 8, "align": "left", "baseline": "alphabetic", "xOffset": 54, "dy": 2.5}}
     ]}
  ]}
 ]
}
],
"config": {
 "view": {"stroke": null},
 "font": "Liberation Sans",
 "title": {"fontSize": 13.5, "fontWeight": "bold", "color": "#8b4a20", "font": "Liberation Sans", "anchor": "middle"},
 "axis": {"grid": false, "labelOverlap": false, "labelFont": "Liberation Sans", "labelFontWeight": "bold", "labelFontSize": 11, "labelColor": "#111", "titleFont": "Liberation Sans", "titleFontWeight": "bold", "titleFontSize": 11.5, "titleColor": "#111", "domainColor": "#666", "tickColor": "#666", "tickSize": 5, "labelPadding": 2, "titlePadding": 5}
}
}
